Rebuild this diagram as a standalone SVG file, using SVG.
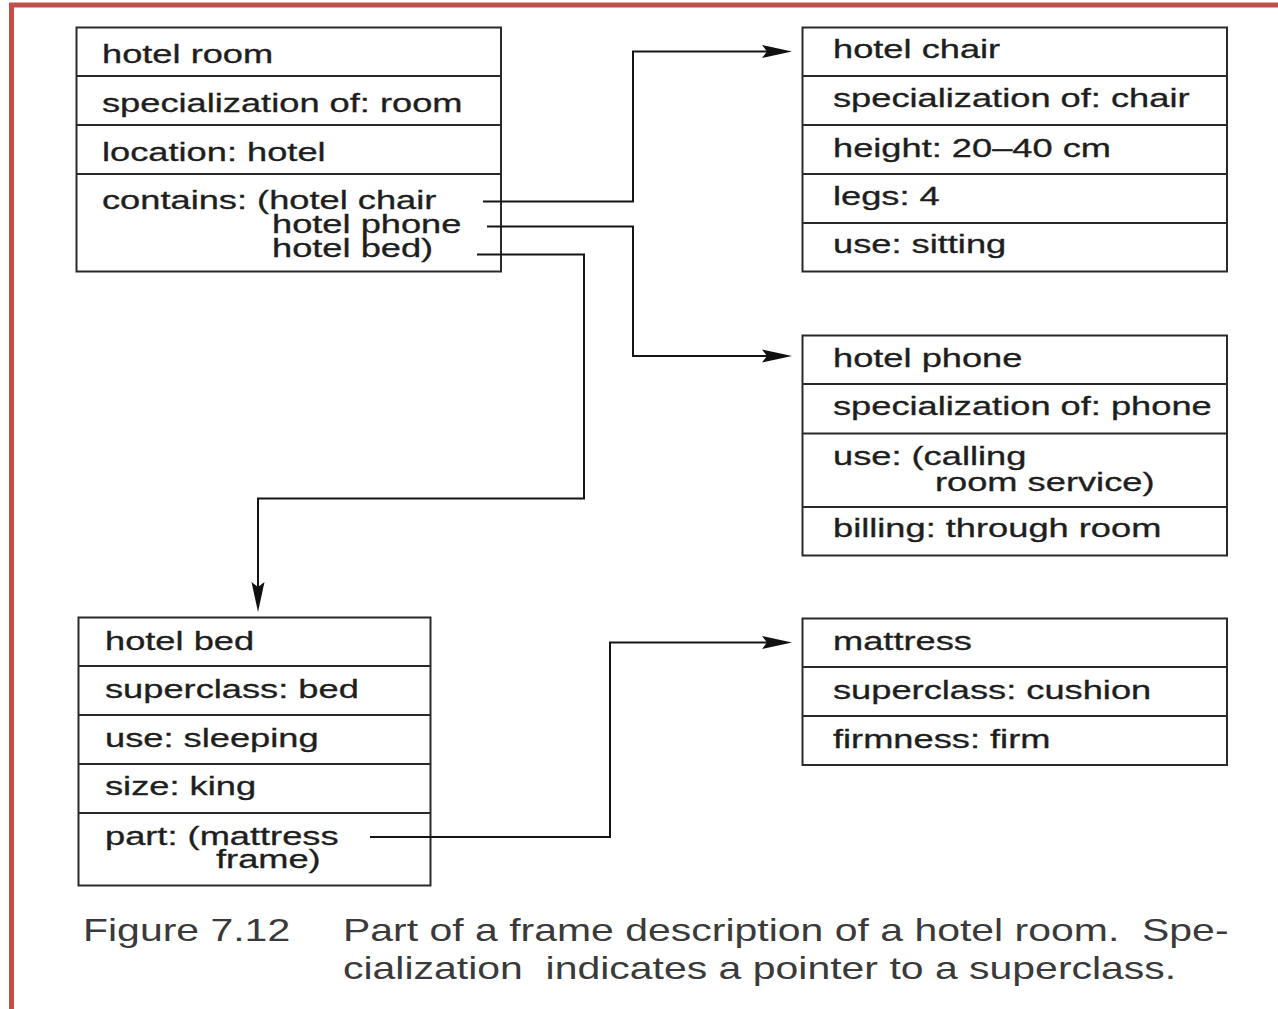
<svg xmlns="http://www.w3.org/2000/svg" width="1278" height="1009" viewBox="0 0 1278 1009">
  <style>
    .box { fill: #ffffff; stroke: #2a2a2a; stroke-width: 2; }
    .div { stroke: #2a2a2a; stroke-width: 2; }
    .t { font-family: "Liberation Sans", Arial, sans-serif; font-size: 25px; fill: #1e1e1e; stroke: #1e1e1e; stroke-width: 0.3; }
    .cap { font-family: "Liberation Sans", Arial, sans-serif; font-size: 32px; fill: #3a3a3a; white-space: pre; }
    .link { fill: none; stroke: #151515; stroke-width: 2; marker-end: url(#head); }
  </style>
  <defs>
    <!-- narrow barbed arrowhead; tip sits 10px beyond the path end -->
    <marker id="head" markerUnits="userSpaceOnUse" markerWidth="32" markerHeight="16" refX="20" refY="6.5" orient="auto" overflow="visible">
      <path d="M0,0 L30,6.5 L0,13 L5,6.5 Z" fill="#111111"/>
    </marker>
  </defs>

  <rect width="1278" height="1009" fill="#ffffff"/>
  <!-- page frame -->
  <rect x="11.5" y="5" width="1300" height="1100" fill="none" stroke="#c0504d" stroke-width="5"/>

  <g id="hotel-room">
    <rect class="box" x="76.5" y="27.5" width="424.5" height="244"/>
    <line class="div" x1="76.5" y1="76" x2="501" y2="76"/>
    <line class="div" x1="76.5" y1="125" x2="501" y2="125"/>
    <line class="div" x1="76.5" y1="174" x2="501" y2="174"/>
    <text class="t" transform="translate(102 63) scale(1.45 1)">hotel room</text>
    <text class="t" transform="translate(102 112) scale(1.45 1)">specialization of: room</text>
    <text class="t" transform="translate(102 161) scale(1.45 1)">location: hotel</text>
    <text class="t" transform="translate(102 209) scale(1.45 1)">contains: (hotel chair</text>
    <text class="t" transform="translate(272 233) scale(1.45 1)">hotel phone</text>
    <text class="t" transform="translate(272 257) scale(1.45 1)">hotel bed)</text>
  </g>

  <g id="hotel-chair">
    <rect class="box" x="802.5" y="27.5" width="424.5" height="244"/>
    <line class="div" x1="802.5" y1="76" x2="1227" y2="76"/>
    <line class="div" x1="802.5" y1="125" x2="1227" y2="125"/>
    <line class="div" x1="802.5" y1="174" x2="1227" y2="174"/>
    <line class="div" x1="802.5" y1="223" x2="1227" y2="223"/>
    <text class="t" transform="translate(833 58) scale(1.45 1)">hotel chair</text>
    <text class="t" transform="translate(833 107) scale(1.45 1)">specialization of: chair</text>
    <text class="t" transform="translate(833 157) scale(1.45 1)">height: 20–40 cm</text>
    <text class="t" transform="translate(833 205) scale(1.45 1)">legs: 4</text>
    <text class="t" transform="translate(833 253) scale(1.45 1)">use: sitting</text>
  </g>

  <g id="hotel-phone">
    <rect class="box" x="802.5" y="335.5" width="424.5" height="220"/>
    <line class="div" x1="802.5" y1="384" x2="1227" y2="384"/>
    <line class="div" x1="802.5" y1="433.5" x2="1227" y2="433.5"/>
    <line class="div" x1="802.5" y1="507" x2="1227" y2="507"/>
    <text class="t" transform="translate(833 367) scale(1.45 1)">hotel phone</text>
    <text class="t" transform="translate(833 415) scale(1.45 1)">specialization of: phone</text>
    <text class="t" transform="translate(833 465) scale(1.45 1)">use: (calling</text>
    <text class="t" transform="translate(935 491) scale(1.45 1)">room service)</text>
    <text class="t" transform="translate(833 537) scale(1.45 1)">billing: through room</text>
  </g>

  <g id="hotel-bed">
    <rect class="box" x="78.5" y="617.5" width="352" height="268"/>
    <line class="div" x1="78.5" y1="666" x2="430.5" y2="666"/>
    <line class="div" x1="78.5" y1="715" x2="430.5" y2="715"/>
    <line class="div" x1="78.5" y1="764" x2="430.5" y2="764"/>
    <line class="div" x1="78.5" y1="813" x2="430.5" y2="813"/>
    <text class="t" transform="translate(105 650) scale(1.45 1)">hotel bed</text>
    <text class="t" transform="translate(105 698) scale(1.45 1)">superclass: bed</text>
    <text class="t" transform="translate(105 747) scale(1.45 1)">use: sleeping</text>
    <text class="t" transform="translate(105 795) scale(1.45 1)">size: king</text>
    <text class="t" transform="translate(105 845) scale(1.45 1)">part: (mattress</text>
    <text class="t" transform="translate(216 868) scale(1.45 1)">frame)</text>
  </g>

  <g id="mattress">
    <rect class="box" x="802.5" y="618.5" width="424.5" height="146.5"/>
    <line class="div" x1="802.5" y1="667" x2="1227" y2="667"/>
    <line class="div" x1="802.5" y1="716" x2="1227" y2="716"/>
    <text class="t" transform="translate(833 650) scale(1.45 1)">mattress</text>
    <text class="t" transform="translate(833 699) scale(1.45 1)">superclass: cushion</text>
    <text class="t" transform="translate(833 748) scale(1.45 1)">firmness: firm</text>
  </g>

  <!-- connectors: drawn last so they start inside the slot they leave from -->
  <g id="connectors">
    <path class="link" d="M483,201.5 H633 V51.5 H782"/>
    <path class="link" d="M487,226.5 H633 V356 H782"/>
    <path class="link" d="M477,254.5 H584 V498.5 H258 V602"/>
    <path class="link" d="M370,837 H610 V642.5 H782"/>
  </g>

  <g id="caption">
    <text class="cap" transform="translate(83 941) scale(1.28 1)">Figure 7.12</text>
    <text class="cap" transform="translate(343 941) scale(1.28 1)">Part of a frame description of a hotel room.  Spe-</text>
    <text class="cap" transform="translate(343 979) scale(1.28 1)">cialization  indicates a pointer to a superclass.</text>
  </g>
</svg>
